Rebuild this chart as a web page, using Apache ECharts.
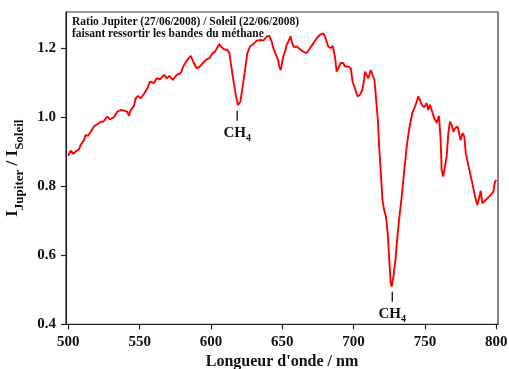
<!DOCTYPE html>
<html>
<head>
<meta charset="utf-8">
<script src="https://cdn.jsdelivr.net/npm/echarts@6/dist/echarts.min.js"></script>
<style>
html,body{margin:0;padding:0;background:#fff;}
#chart{width:509px;height:369px;}
</style>
</head>
<body>
<div id="chart"></div>
<script>
// Wavelength (nm)
const wavelength = [
500.0,501.7,503.5,505.9,507.5,508.7,511.0,512.2,513.8,515.7,518.0,520.3,522.7,524.5,527.3,529.2,532.0,534.3,536.7,539.0,
541.4,542.5,543.7,546.0,547.2,548.9,550.7,553.1,555.4,557.3,558.2,560.1,562.0,564.3,567.1,569.0,570.8,573.2,576.0,578.8,
580.6,583.0,585.8,587.6,590.0,591.8,594.6,597.0,598.8,601.2,602.8,604.0,605.8,607.5,609.1,611.4,612.9,614.3,615.8,617.5,
618.9,619.8,620.6,622.2,623.9,625.5,627.4,629.7,632.1,634.4,635.6,636.7,639.1,640.9,642.6,643.7,646.1,647.2,647.9,648.9,
649.8,650.7,651.9,653.1,654.2,654.9,655.9,656.8,658.2,660.1,662.4,664.7,667.1,669.4,671.7,674.1,676.4,678.7,679.9,682.2,
683.9,685.3,686.9,688.1,689.3,690.9,692.8,694.0,696.3,698.0,699.3,700.9,702.8,704.4,706.1,707.3,708.0,709.2,710.3,712.0,
713.1,714.6,715.8,717.0,717.9,719.1,720.2,721.4,722.7,723.9,725.0,726.0,726.7,727.9,729.3,730.7,732.1,733.7,735.5,737.2,
738.8,741.1,743.0,744.2,745.3,746.5,747.7,749.5,751.2,752.3,753.5,754.7,756.5,758.2,759.8,761.0,761.7,762.8,764.0,765.2,
766.4,767.5,768.7,769.9,771.1,772.9,773.9,775.0,776.4,777.6,778.6,780.0,781.6,783.2,785.1,786.7,787.9,789.1,790.2,792.1,
794.4,796.8,797.9,799.1,800.0
];
// Ratio I_Jupiter / I_Soleil
const ratio = [
0.888,0.903,0.894,0.903,0.907,0.920,0.934,0.949,0.946,0.958,0.973,0.980,0.987,0.987,1.002,0.994,1.000,1.016,1.021,1.019,
1.016,1.004,1.021,1.033,1.055,1.062,1.055,1.068,1.084,1.103,1.108,1.099,1.113,1.110,1.123,1.113,1.120,1.108,1.123,1.128,
1.147,1.164,1.178,1.161,1.142,1.145,1.158,1.168,1.171,1.186,1.190,1.195,1.212,1.203,1.197,1.195,1.186,1.145,1.105,1.062,
1.035,1.033,1.045,1.089,1.137,1.186,1.205,1.212,1.222,1.224,1.229,1.222,1.234,1.236,1.219,1.200,1.176,1.164,1.147,1.137,
1.157,1.176,1.190,1.210,1.219,1.214,1.234,1.216,1.203,1.205,1.197,1.190,1.186,1.200,1.214,1.229,1.239,1.243,1.234,1.205,
1.200,1.207,1.176,1.132,1.128,1.157,1.157,1.147,1.147,1.142,1.103,1.084,1.060,1.065,1.079,1.108,1.132,1.128,1.113,1.137,
1.139,1.108,1.050,0.992,0.915,0.838,0.760,0.731,0.712,0.664,0.586,0.519,0.509,0.538,0.586,0.654,0.712,0.770,0.847,0.915,
0.963,1.012,1.031,1.045,1.060,1.050,1.036,1.029,1.041,1.021,1.036,1.033,0.997,0.984,1.004,0.934,0.847,0.828,0.826,0.886,
0.954,0.987,0.978,0.958,0.968,0.973,0.968,0.934,0.954,0.944,0.896,0.891,0.838,0.809,0.770,0.746,0.765,0.787,0.751,0.758,
0.768,0.778,0.784,0.813,0.818
];
const xTicks = [500,550,600,650,700,750,800];
const yTicks = [0.4,0.6,0.8,1.0,1.2];
// CH4 band annotations (wavelength, ratio at marker)
const bandX = [618.4, 727.1];
const bandY = [1.004, 0.480];
const bandLabel = ['CH4', 'CH4'];
const titleLines = ['Ratio Jupiter (27/06/2008) / Soleil (22/06/2008)', 'faisant ressortir les bandes du méthane'];

const FONT = '"Liberation Serif", "DejaVu Serif", serif';
const chart = echarts.init(document.getElementById('chart'), null, {renderer:'canvas'});

const pts = wavelength.map((w,i)=>[w, ratio[i]]);

chart.setOption({
  animation:false,
  backgroundColor:'#fff',
  title:{
    text: titleLines.join('\n'),
    left:67, top:11,
    textStyle:{fontFamily:FONT, fontSize:11.5, fontWeight:'bold', color:'#111', lineHeight:12}
  },
  grid:{left:66, top:12, width:432, height:312.3, show:true, borderColor:'#333', borderWidth:1.2,
        backgroundColor:'transparent', containLabel:false, outerBoundsMode:'none'},
  xAxis:{
    type:'value', min:498.39, max:801.2,
    axisLine:{show:true, lineStyle:{color:'#222', width:1.2}},
    axisTick:{show:true, length:5, customValues:xTicks, lineStyle:{color:'#222', width:1.2}},
    axisLabel:{customValues:xTicks, margin:10, fontFamily:FONT, fontSize:15, fontWeight:'bold', color:'#111'},
    splitLine:{show:false},
    name:'Longueur d\'onde / nm', nameLocation:'middle', nameGap:29,
    nameTextStyle:{fontFamily:FONT, fontSize:16, fontWeight:'bold', color:'#111'}
  },
  yAxis:{
    type:'value', min:0.4, max:1.305,
    axisLine:{show:true, lineStyle:{color:'#222', width:1.2}},
    axisTick:{show:true, length:5, customValues:yTicks, lineStyle:{color:'#222', width:1.2}},
    axisLabel:{customValues:yTicks, margin:10, fontFamily:FONT, fontSize:15, fontWeight:'bold', color:'#111',
      formatter:v=>v.toFixed(1)},
    splitLine:{show:false},
    name:'{b|I}{s|Jupiter}{b| / I}{s|Soleil}', nameLocation:'middle', nameGap:40, nameRotate:90,
    nameTextStyle:{
      color:'#111',
      rich:{
        b:{fontFamily:FONT, fontSize:17, fontWeight:'bold', color:'#111', verticalAlign:'top', lineHeight:21},
        s:{fontFamily:FONT, fontSize:13, fontWeight:'bold', color:'#111', verticalAlign:'bottom', lineHeight:22}
      }
    }
  },
  series:[{
    type:'line', data:pts, showSymbol:false, smooth:false,
    lineStyle:{color:'#ff0000', width:1.9},
    itemStyle:{color:'#ff0000'},
    markPoint:{
      symbol:'rect', symbolSize:[1.3,10],
      itemStyle:{color:'#111'},
      label:{
        show:true, position:'bottom', distance:5,
        formatter:p=>'{a|CH}{s|4}',
        rich:{
          a:{fontFamily:FONT, fontSize:15, fontWeight:'bold', color:'#111', verticalAlign:'top', lineHeight:18},
          s:{fontFamily:FONT, fontSize:10, fontWeight:'bold', color:'#111', verticalAlign:'bottom', lineHeight:18}
        }
      },
      data: bandX.map((x,i)=>({coord:[x, bandY[i]], name:bandLabel[i]}))
    }
  }]
});
</script>
</body>
</html>
